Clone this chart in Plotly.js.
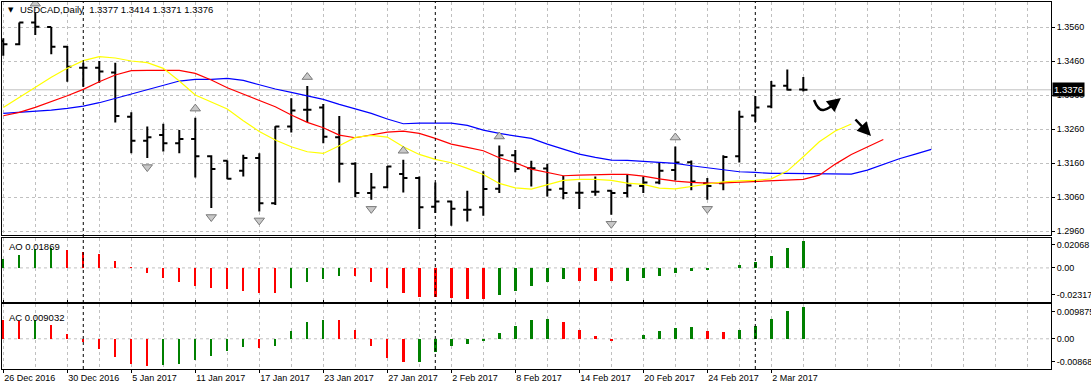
<!DOCTYPE html>
<html><head><meta charset="utf-8">
<script src="https://cdn.plot.ly/plotly-3.0.1.min.js"></script>
<style>html,body{margin:0;padding:0;background:#fff;}#chart{width:1091px;height:390px;}</style>
</head><body><div id="chart"></div>
<script>
// ---------- data ----------
const symbol = 'USDCAD';
const timeframe = 'Daily';
const dates = ['26 Dec 2016','27 Dec 2016','28 Dec 2016','29 Dec 2016','30 Dec 2016',
 '2 Jan 2017','3 Jan 2017','4 Jan 2017','5 Jan 2017','6 Jan 2017',
 '9 Jan 2017','10 Jan 2017','11 Jan 2017','12 Jan 2017','13 Jan 2017',
 '16 Jan 2017','17 Jan 2017','18 Jan 2017','19 Jan 2017','20 Jan 2017',
 '23 Jan 2017','24 Jan 2017','25 Jan 2017','26 Jan 2017','27 Jan 2017',
 '30 Jan 2017','31 Jan 2017','1 Feb 2017','2 Feb 2017','3 Feb 2017',
 '6 Feb 2017','7 Feb 2017','8 Feb 2017','9 Feb 2017','10 Feb 2017',
 '13 Feb 2017','14 Feb 2017','15 Feb 2017','16 Feb 2017','17 Feb 2017',
 '20 Feb 2017','21 Feb 2017','22 Feb 2017','23 Feb 2017','24 Feb 2017',
 '27 Feb 2017','28 Feb 2017','1 Mar 2017','2 Mar 2017','3 Mar 2017','6 Mar 2017'];

const open  = [1.3520,1.3510,1.3574,1.3561,1.3503,1.3441,1.3441,1.3427,1.3297,1.3226,
               1.3243,1.3219,1.3231,1.3180,1.3167,1.3138,1.3175,1.3042,1.3268,1.3317,
               1.3324,1.3236,1.3158,1.3072,1.3089,1.3128,1.3116,1.3032,1.3047,1.3023,
               1.3030,1.3085,1.3183,1.3145,1.3144,1.3085,1.3073,1.3076,1.3079,1.3072,
               1.3093,1.3103,1.3140,1.3163,1.3101,1.3101,1.3180,1.3300,1.3327,1.3388,1.3377];
const high  = [1.3528,1.3574,1.3603,1.3561,1.3505,1.3456,1.3461,1.3456,1.3310,1.3268,
               1.3276,1.3258,1.3294,1.3183,1.3168,1.3185,1.3189,1.3269,1.3351,1.3387,
               1.3334,1.3299,1.3163,1.3131,1.3152,1.3170,1.3121,1.3103,1.3049,1.3079,
               1.3136,1.3212,1.3199,1.3167,1.3158,1.3123,1.3104,1.3121,1.3080,1.3128,
               1.3121,1.3162,1.3209,1.3168,1.3116,1.3183,1.3314,1.3358,1.3402,1.3436,1.3414];
const low   = [1.3476,1.3507,1.3537,1.3481,1.3400,1.3385,1.3397,1.3280,1.3189,1.3175,
               1.3194,1.3189,1.3118,1.3028,1.3113,1.3121,1.3018,1.3037,1.3250,1.3281,
               1.3219,1.3103,1.3060,1.3052,1.3086,1.3074,1.2966,1.3013,1.2976,1.2988,
               1.3005,1.3072,1.3133,1.3091,1.3062,1.3054,1.3025,1.3064,1.3008,1.3060,
               1.3072,1.3098,1.3109,1.3080,1.3052,1.3080,1.3162,1.3281,1.3322,1.3374,1.3371];
const close = [1.3510,1.3574,1.3562,1.3503,1.3444,1.3441,1.3430,1.3299,1.3226,1.3236,
               1.3219,1.3231,1.3180,1.3143,1.3114,1.3175,1.3042,1.3268,1.3315,1.3317,
               1.3238,1.3158,1.3072,1.3088,1.3150,1.3116,1.3030,1.3047,1.3026,1.3023,
               1.3084,1.3183,1.3143,1.3145,1.3082,1.3072,1.3073,1.3076,1.3072,1.3094,
               1.3103,1.3138,1.3162,1.3106,1.3093,1.3178,1.3297,1.3324,1.3388,1.3376,1.3376];

// Alligator lines (already shifted forward as drawn)
const jaw = [1.33066,1.33095,1.33115,1.33164,1.33213,1.33282,1.33380,1.33508,1.33635,1.33753,
             1.33901,1.34018,1.34068,1.34068,1.34097,1.34038,1.33910,1.33783,1.33684,1.33576,
             1.33478,1.33331,1.33193,1.33066,1.32899,1.32761,1.32781,1.32791,1.32781,1.32712,
             1.32574,1.32476,1.32398,1.32329,1.32162,1.32015,1.31867,1.31769,1.31690,1.31681,
             1.31651,1.31612,1.31592,1.31523,1.31464,1.31415,1.31347,1.31327,1.31297,1.31297,
             1.31297,1.31288,1.31278,1.31278,1.31396,1.31563,1.31730,1.31867,1.32005];
const teeth = [1.32997,1.33095,1.33242,1.33409,1.33586,1.33773,1.33999,1.34195,1.34323,1.34333,
               1.34333,1.34333,1.34244,1.34048,1.33822,1.33635,1.33459,1.33262,1.33017,1.32800,
               1.32643,1.32427,1.32349,1.32427,1.32516,1.32545,1.32476,1.32329,1.32162,1.32064,
               1.31965,1.31759,1.31612,1.31425,1.31317,1.31229,1.31248,1.31268,1.31268,1.31268,
               1.31219,1.31140,1.31072,1.31032,1.31013,1.31022,1.31042,1.31072,1.31101,1.31101,
               1.31121,1.31248,1.31572,1.31857,1.32083,1.32299];
const lips = [1.33242,1.33537,1.33832,1.34127,1.34392,1.34618,1.34736,1.34696,1.34608,1.34559,
              1.34392,1.34018,1.33606,1.33409,1.33193,1.32850,1.32535,1.32280,1.32083,1.31936,
              1.31887,1.32113,1.32358,1.32417,1.32368,1.32083,1.31857,1.31710,1.31612,1.31445,
              1.31268,1.31003,1.30875,1.30836,1.30973,1.31091,1.31121,1.31121,1.31091,1.31013,
              1.30973,1.30865,1.30846,1.30914,1.30983,1.31052,1.31081,1.31091,1.31140,1.31366,
              1.31789,1.32231,1.32545,1.32751];

const fractalUp   = [2,12,19,25,31,42];
const fractalDown = [9,13,16,23,26,38,44];

const ao = [0.0061,0.0090,0.0131,0.0135,0.0124,0.0110,0.0092,0.0050,0.0009,-0.0038,
            -0.0072,-0.0097,-0.0124,-0.0140,-0.0146,-0.0160,-0.0171,-0.0173,-0.0137,-0.0097,
            -0.0079,-0.0056,-0.0058,-0.0097,-0.0140,-0.0171,-0.0196,-0.0200,-0.0203,-0.0214,
            -0.0215,-0.0185,-0.0158,-0.0124,-0.0097,-0.0079,-0.0086,-0.0087,-0.0092,-0.0086,
            -0.0072,-0.0052,-0.0038,-0.0018,-0.0016,0.0002,0.0023,0.0043,0.0083,0.0135,0.01869];
const ac = [0.0053,0.0050,0.0055,0.0040,0.0014,-0.0008,-0.0029,-0.0052,-0.0072,-0.0079,
            -0.0075,-0.0072,-0.0060,-0.0049,-0.0034,-0.0025,-0.0026,-0.0020,0.0021,0.0049,
            0.0055,0.0054,0.0026,-0.0022,-0.0056,-0.0068,-0.0066,-0.0039,-0.0022,-0.0016,
            -0.0007,0.0018,0.0037,0.0055,0.0056,0.0049,0.0026,0.0009,-0.0005,-0.0002,
            0.0011,0.0023,0.0032,0.0034,0.0023,0.0020,0.0026,0.0037,0.0057,0.0080,0.009032];

const priceTicks = [1.2960,1.3060,1.3160,1.3260,1.3360,1.3460,1.3560];
const aoScale = [-0.02317, 0.02068];
const acScale = [-0.00868, 0.009875];

// ---------- layout helpers ----------
const W = 1091, H = 390;
const M = {l:2, r:40, t:2, b:21};
const plotH = H - M.t - M.b;
const dom = {main:[0.364, 1], ao:[0.183, 0.358], ac:[0, 0.176]};
const mainRange = [1.29473, 1.36345];
const xRange = [-0.08, 65.48];
const pricePerPx = (mainRange[1]-mainRange[0]) / ((dom.main[1]-dom.main[0]) * plotH);

const idx = dates.map((d,i)=>i);
const UP = '#008000', DOWN = '#ff0000';
const aoColors = ao.map((v,i)=> i===0 ? UP : (v > ao[i-1] ? UP : DOWN));
const acColors = ac.map((v,i)=> i===0 ? DOWN : (v > ac[i-1] ? UP : DOWN));

const GRID = '#c0c0c0';
const FONT = 'Liberation Sans, Arial, sans-serif';

const traces = [
  {type:'scatter', mode:'lines', x:jaw.map((v,i)=>i), y:jaw, line:{color:'#0000ff', width:1.2}, xaxis:'x', yaxis:'y', hoverinfo:'skip'},
  {type:'scatter', mode:'lines', x:teeth.map((v,i)=>i), y:teeth, line:{color:'#ff0000', width:1.2}, xaxis:'x', yaxis:'y', hoverinfo:'skip'},
  {type:'scatter', mode:'lines', x:lips.map((v,i)=>i), y:lips, line:{color:'#ffff00', width:1.2}, xaxis:'x', yaxis:'y', hoverinfo:'skip'},
  {type:'ohlc', x:idx, open:open, high:high, low:low, close:close, tickwidth:0.26,
   increasing:{line:{color:'#000000', width:2}}, decreasing:{line:{color:'#000000', width:2}},
   xaxis:'x', yaxis:'y', hoverinfo:'skip'},
  {type:'scatter', mode:'markers', x:fractalUp, y:fractalUp.map(i=>high[i] + 9*pricePerPx),
   marker:{symbol:'triangle-up', size:9, color:'#c8c8c8', line:{color:'#7a7a7a', width:1}}, xaxis:'x', yaxis:'y', hoverinfo:'skip'},
  {type:'scatter', mode:'markers', x:fractalDown, y:fractalDown.map(i=>low[i] - 9*pricePerPx),
   marker:{symbol:'triangle-down', size:9, color:'#c8c8c8', line:{color:'#7a7a7a', width:1}}, xaxis:'x', yaxis:'y', hoverinfo:'skip'},
  {type:'bar', x:idx, y:ao, width:0.15, marker:{color:aoColors, line:{width:0}}, xaxis:'x', yaxis:'y2', hoverinfo:'skip'},
  {type:'bar', x:idx, y:ac, width:0.15, marker:{color:acColors, line:{width:0}}, xaxis:'x', yaxis:'y3', hoverinfo:'skip'}
];

// tick labels every 4 bars
const xTickVals = idx.filter(i => i % 4 === 0);
const xTickText = xTickVals.map(i => dates[i]);

function edgeTicks(scale, d){
  const span = scale[1]-scale[0];
  const perPx = span / ((d[1]-d[0]) * plotH);
  return {vals:[scale[1]-7*perPx, 0, scale[0]+7*perPx], text:[String(scale[1]), '0.00', String(scale[0])]};
}
const aoT = edgeTicks(aoScale, dom.ao);
const acT = edgeTicks(acScale, dom.ac);

// month separators
const sepIdx = idx.filter(i => i>0 && dates[i].split(' ')[1] !== dates[i-1].split(' ')[1]);

const shapes = [];
sepIdx.forEach(i => shapes.push({type:'line', xref:'x', yref:'paper', x0:i, x1:i, y0:0, y1:1,
  line:{color:'#000000', width:1, dash:'3px,3px'}, layer:'above'}));
shapes.push({type:'line', xref:'paper', yref:'y', x0:0, x1:1, y0:close[close.length-1], y1:close[close.length-1],
  line:{color:'#c0c0c0', width:1}, layer:'below'});
shapes.push({type:'line', xref:'paper', yref:'y2', x0:0, x1:1, y0:0, y1:0, line:{color:GRID, width:1, dash:'3px,3px'}, layer:'below'});
shapes.push({type:'line', xref:'paper', yref:'y3', x0:0, x1:1, y0:0, y1:0, line:{color:GRID, width:1, dash:'3px,3px'}, layer:'below'});
// hand drawn squiggle arrow (bar index / price anchors)
shapes.push({type:'path', xref:'x', yref:'y',
  path:'M 50.67,1.3346 Q 50.95,1.3312 51.3,1.3317 Q 51.65,1.3321 52.0,1.3338',
  line:{color:'#000000', width:2.5}, layer:'above'});

const last = close.length-1;
const f4 = v => v.toFixed(4);
const annotations = [
  {xref:'paper', yref:'paper', x:4/1049, y:(H-M.b-10)/plotH, xanchor:'left', yanchor:'middle', showarrow:false,
   text:'▼', font:{family:'DejaVu Sans', size:7, color:'#000'}},
  {xref:'paper', yref:'paper', x:16/1049, y:(H-M.b-10)/plotH, xanchor:'left', yanchor:'middle', showarrow:false,
   text: symbol + ',' + timeframe + '  ' + [open[last],high[last],low[last],close[last]].map(f4).join(' '),
   font:{family:FONT, size:9.5, color:'#000'}},
  {xref:'paper', yref:'paper', x:5/1049, y:(H-M.b-246.5)/plotH, xanchor:'left', yanchor:'middle', showarrow:false,
   text:'AO ' + ao[last].toFixed(5), font:{family:FONT, size:9.5, color:'#000'}},
  {xref:'paper', yref:'paper', x:5/1049, y:(H-M.b-317)/plotH, xanchor:'left', yanchor:'middle', showarrow:false,
   text:'AC ' + ac[last].toFixed(6), font:{family:FONT, size:9.5, color:'#000'}},
  {xref:'paper', yref:'y', x:1, y:close[last], xanchor:'left', yanchor:'middle', xshift:1, showarrow:false,
   text:f4(close[last]), bgcolor:'#000000', borderpad:1, font:{family:FONT, size:9.5, color:'#ffffff'}},
  // squiggle arrow head
  {xref:'x', yref:'y', axref:'x', ayref:'y', x:52.35, y:1.3352, ax:51.85, ay:1.3333, showarrow:true, text:'',
   arrowhead:2, arrowsize:1.1, arrowwidth:2.5, arrowcolor:'#000000'},
  // straight arrow
  {xref:'x', yref:'y', axref:'x', ayref:'y', x:54.23, y:1.3240, ax:53.17, ay:1.3293, showarrow:true, text:'',
   arrowhead:2, arrowsize:1.1, arrowwidth:2.5, arrowcolor:'#000000'}
];

const layout = {
  width:W, height:H, margin:M, paper_bgcolor:'#ffffff', plot_bgcolor:'#ffffff',
  showlegend:false, font:{family:FONT, size:9, color:'#000000'},
  xaxis:{range:xRange, anchor:'y3', tickmode:'array', tickvals:xTickVals, ticktext:xTickText,
    ticklabelposition:'outside right', ticks:'outside', ticklen:3, tickcolor:'#000',
    showgrid:true, gridcolor:GRID, griddash:'3px,3px', gridwidth:1,
    minor:{tickmode:'linear', tick0:0, dtick:2, showgrid:true, gridcolor:GRID, griddash:'3px,3px', gridwidth:1},
    showline:true, mirror:'all', linecolor:'#000', linewidth:1, zeroline:false,
    rangeslider:{visible:false}, fixedrange:true, tickfont:{family:FONT, size:9}},
  yaxis:{domain:dom.main, range:mainRange, side:'right', anchor:'x', tickmode:'array', tickvals:priceTicks,
    ticktext:priceTicks.map(f4), ticks:'outside', ticklen:3, tickcolor:'#000',
    showgrid:true, gridcolor:GRID, griddash:'3px,3px', gridwidth:1, zeroline:false,
    showline:true, mirror:true, linecolor:'#000', linewidth:1, tickfont:{family:FONT, size:9}},
  yaxis2:{domain:dom.ao, range:[aoScale[0], aoScale[1]], side:'right', anchor:'x', tickmode:'array',
    tickvals:aoT.vals, ticktext:aoT.text, ticks:'outside', ticklen:3, tickcolor:'#000',
    showgrid:false, zeroline:false, showline:true, mirror:true, linecolor:'#000', linewidth:1, tickfont:{family:FONT, size:9}},
  yaxis3:{domain:dom.ac, range:[acScale[0], acScale[1]], side:'right', anchor:'x', tickmode:'array',
    tickvals:acT.vals, ticktext:acT.text, ticks:'outside', ticklen:3, tickcolor:'#000',
    showgrid:false, zeroline:false, showline:true, mirror:true, linecolor:'#000', linewidth:1, tickfont:{family:FONT, size:9}},
  shapes:shapes, annotations:annotations, bargap:0
};

Plotly.newPlot('chart', traces, layout, {displayModeBar:false, staticPlot:true});
</script>
</body></html>
